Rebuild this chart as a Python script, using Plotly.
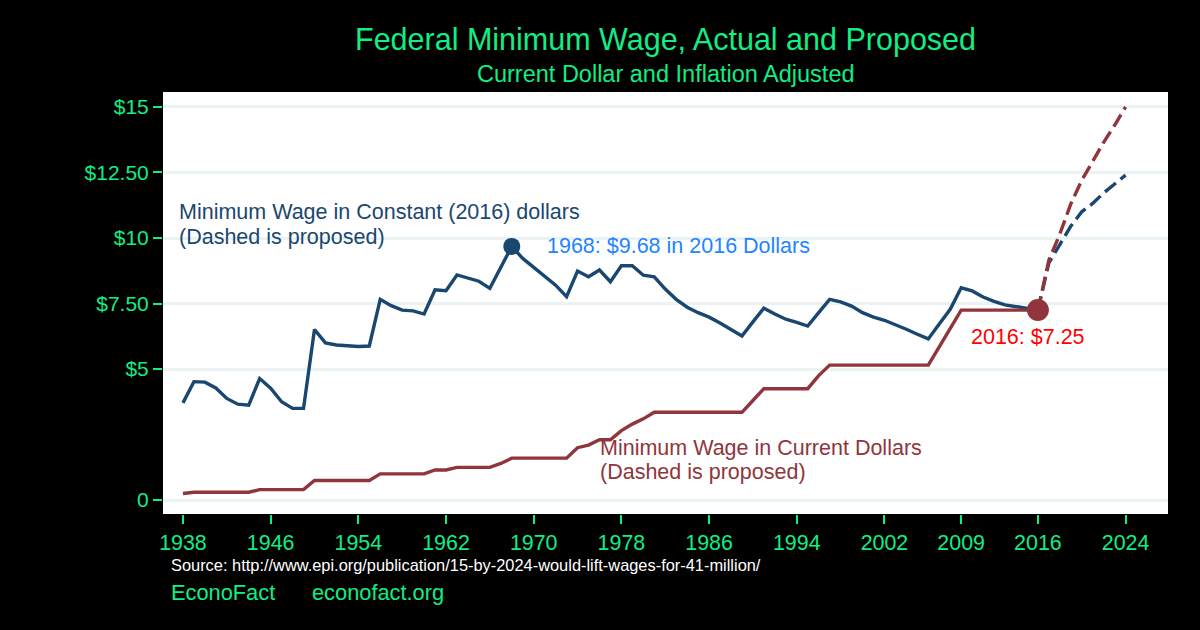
import plotly.graph_objects as go

years = list(range(1938, 2017))

# minimum wage in current dollars, one value per year 1938-2016
current = [
    0.25, 0.30, 0.30, 0.30, 0.30, 0.30, 0.30, 0.40, 0.40, 0.40,
    0.40, 0.40, 0.75, 0.75, 0.75, 0.75, 0.75, 0.75, 1.00, 1.00,
    1.00, 1.00, 1.00, 1.15, 1.15, 1.25, 1.25, 1.25, 1.25, 1.40,
    1.60, 1.60, 1.60, 1.60, 1.60, 1.60, 2.00, 2.10, 2.30, 2.30,
    2.65, 2.90, 3.10, 3.35, 3.35, 3.35, 3.35, 3.35, 3.35, 3.35,
    3.35, 3.35, 3.80, 4.25, 4.25, 4.25, 4.25, 4.25, 4.75, 5.15,
    5.15, 5.15, 5.15, 5.15, 5.15, 5.15, 5.15, 5.15, 5.15, 5.85,
    6.55, 7.25, 7.25, 7.25, 7.25, 7.25, 7.25, 7.25, 7.25,
]

# minimum wage in constant 2016 dollars
constant = [
    3.71, 4.52, 4.50, 4.28, 3.88, 3.66, 3.62, 4.64, 4.27, 3.75,
    3.50, 3.50, 6.51, 6.00, 5.92, 5.88, 5.86, 5.88, 7.66, 7.42,
    7.25, 7.22, 7.10, 8.02, 7.99, 8.59, 8.48, 8.35, 8.08, 8.85,
    9.68, 9.22, 8.88, 8.55, 8.20, 7.76, 8.74, 8.52, 8.78, 8.33,
    8.94, 8.94, 8.58, 8.52, 8.05, 7.66, 7.36, 7.15, 6.98, 6.76,
    6.52, 6.26, 6.80, 7.32, 7.10, 6.90, 6.78, 6.64, 7.15, 7.66,
    7.56, 7.40, 7.15, 6.98, 6.86, 6.70, 6.52, 6.33, 6.15, 6.72,
    7.28, 8.10, 7.98, 7.75, 7.58, 7.45, 7.38, 7.32, 7.25,
]

# proposed path ($15 by 2024)
prop_years = list(range(2016, 2025))
prop_current = [7.25, 9.15, 10.15, 11.30, 12.20, 12.95, 13.65, 14.30, 15.00]
prop_constant = [7.25, 9.05, 9.75, 10.45, 11.00, 11.32, 11.72, 12.08, 12.40]

x_ticks = [1938, 1946, 1954, 1962, 1970, 1978, 1986, 1994, 2002, 2009, 2016, 2024]
y_ticks = [0, 5, 7.5, 10, 12.5, 15]
y_labels = ["0", "$5", "$7.50", "$10", "$12.50", "$15"]

assert len(current) == len(years) == len(constant)

NAVY = "#1a476f"
MAROON = "#90353b"
GREEN = "#10ee84"
FONT = "Liberation Sans, Arial, sans-serif"

fig = go.Figure()

fig.add_trace(go.Scatter(x=years, y=constant, mode="lines",
                         line=dict(color=NAVY, width=3.4)))
fig.add_trace(go.Scatter(x=prop_years, y=prop_constant, mode="lines",
                         line=dict(color=NAVY, width=3.4, dash="14px,6px")))
fig.add_trace(go.Scatter(x=years, y=current, mode="lines",
                         line=dict(color=MAROON, width=3.4)))
fig.add_trace(go.Scatter(x=prop_years, y=prop_current, mode="lines",
                         line=dict(color=MAROON, width=3.4, dash="14px,6px")))

# highlighted points
fig.add_trace(go.Scatter(x=[years[30]], y=[constant[30]], mode="markers",
                         marker=dict(color=NAVY, size=17)))
fig.add_trace(go.Scatter(x=[years[-1]], y=[current[-1]], mode="markers",
                         marker=dict(color=MAROON, size=22)))

# two-line labels are drawn as separate lines so the spacing stays tight
ann = [
    dict(x=1937.5, y=11.0, text="Minimum Wage in Constant (2016) dollars", color=NAVY),
    dict(x=1937.5, y=10.03, text="(Dashed is proposed)", color=NAVY),
    dict(x=1971.0, y=9.69, text="1968: $9.68 in 2016 Dollars", color="#1e84ff"),
    dict(x=2009.7, y=6.22, text="2016: $7.25", color="#ff0000"),
    dict(x=1975.9, y=1.99, text="Minimum Wage in Current Dollars", color=MAROON),
    dict(x=1975.9, y=1.06, text="(Dashed is proposed)", color=MAROON),
]
for a in ann:
    fig.add_annotation(x=a["x"], y=a["y"], text=a["text"], showarrow=False,
                       xanchor="left", yanchor="middle",
                       font=dict(color=a["color"], size=21.5, family=FONT))

fig.add_annotation(x=0.5, y=1.125, xref="paper", yref="paper",
                   text="Federal Minimum Wage, Actual and Proposed",
                   showarrow=False, yanchor="middle",
                   font=dict(color=GREEN, size=30.5, family=FONT))
fig.add_annotation(x=0.5, y=1.043, xref="paper", yref="paper",
                   text="Current Dollar and Inflation Adjusted",
                   showarrow=False, yanchor="middle",
                   font=dict(color=GREEN, size=23.5, family=FONT))
fig.add_annotation(x=0.006, y=-0.121, xref="paper", yref="paper",
                   text="Source: http://www.epi.org/publication/15-by-2024-would-lift-wages-for-41-million/",
                   showarrow=False, xanchor="left", yanchor="middle",
                   font=dict(color="white", size=16.4, family=FONT))
fig.add_annotation(x=0.006, y=-0.185, xref="paper", yref="paper",
                   text="EconoFact", showarrow=False, xanchor="left", yanchor="middle",
                   font=dict(color=GREEN, size=21.8, family=FONT))
fig.add_annotation(x=0.146, y=-0.185, xref="paper", yref="paper",
                   text="econofact.org", showarrow=False, xanchor="left", yanchor="middle",
                   font=dict(color=GREEN, size=21.8, family=FONT))

fig.update_xaxes(range=[1936.18, 2027.87], tickvals=x_ticks, showgrid=False,
                 zeroline=False, ticks="outside", ticklen=9, tickwidth=2,
                 tickcolor=GREEN, tickfont=dict(color=GREEN, size=21.4, family=FONT))
fig.update_yaxes(range=[-0.53, 15.57], tickvals=y_ticks, ticktext=y_labels,
                 showgrid=True, gridcolor="#eaf2f3", gridwidth=3, zeroline=False,
                 ticks="outside", ticklen=9, tickwidth=2, tickcolor=GREEN,
                 tickfont=dict(color=GREEN, size=21, family=FONT))

fig.update_layout(
    width=1200, height=630,
    paper_bgcolor="black", plot_bgcolor="white",
    margin=dict(l=163, r=32, t=92, b=116),
    showlegend=False,
)

# page without the default body margin, so the figure sits at the corner
fig.write_html("out.html", config={"displayModeBar": False},
               post_script="document.body.style.margin='0';document.body.style.background='black';")
